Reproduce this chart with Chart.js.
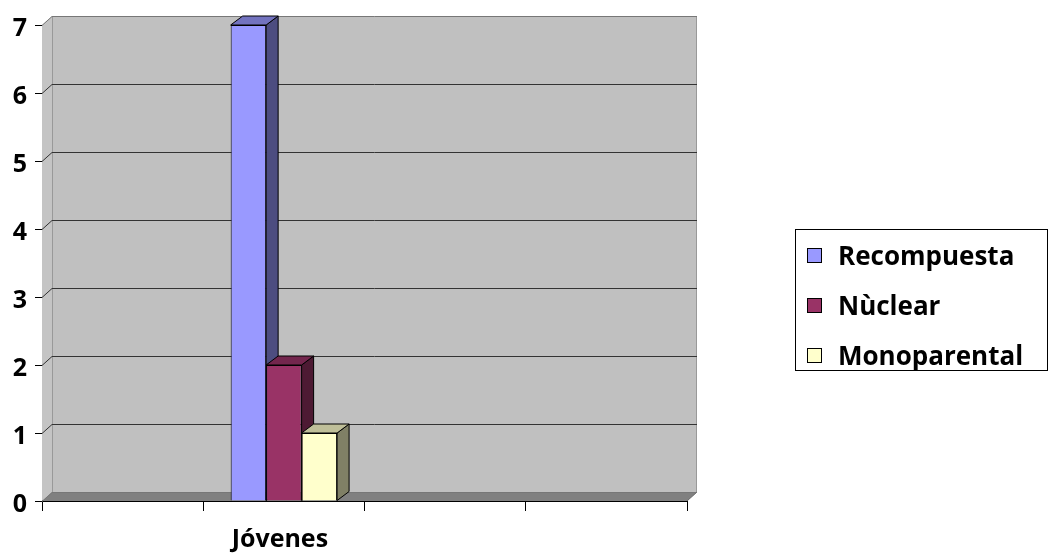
<!DOCTYPE html>
<html>
<head>
<meta charset="utf-8">
<script src="https://cdn.jsdelivr.net/npm/chart.js"></script>
<style>
  html, body { margin: 0; padding: 0; background: #fff; }
  #wrap { width: 1049px; height: 555px; }
</style>
</head>
<body>
<div id="wrap"><canvas id="chart-area" width="1049" height="555"></canvas></div>
<script>
// data
var categories = ['', 'Jóvenes', '', ''];
var seriesNames = ['Recompuesta', 'Nùclear', 'Monoparental'];
var recompuesta = [null, 7, null, null];
var nuclear = [null, 2, null, null];
var monoparental = [null, 1, null, null];
var yMin = 0, yMax = 7, yStep = 1;

var fronts = ['#9999FF', '#993366', '#FFFFCC'];
var sides = ['#4D4D80', '#4D1A33', '#808066'];
var tops = ['#7373BF', '#73264D', '#BFBF99'];

var FONT = '"Open Sans"';
var DX = 10, DY = -9;   // depth of the walls
var BX = 12, BY = -9;   // depth of the bars

function poly(ctx, pts, fill, stroke) {
    ctx.beginPath();
    ctx.moveTo(pts[0][0], pts[0][1]);
    for (var i = 1; i < pts.length; i++) ctx.lineTo(pts[i][0], pts[i][1]);
    ctx.closePath();
    if (fill) { ctx.fillStyle = fill; ctx.fill(); }
    if (stroke) { ctx.strokeStyle = stroke; ctx.lineWidth = 1; ctx.stroke(); }
}

var walls = {
    id: 'walls',
    beforeDatasetsDraw: function(chart) {
        var ctx = chart.ctx, a = chart.chartArea, ys = chart.scales.y;
        ctx.save();
        // back wall
        poly(ctx, [[a.left + DX, a.top + DY], [a.right + DX, a.top + DY],
                   [a.right + DX, a.bottom + DY], [a.left + DX, a.bottom + DY]], '#C0C0C0', null);
        // side wall
        poly(ctx, [[a.left, a.top], [a.left + DX, a.top + DY],
                   [a.left + DX, a.bottom + DY], [a.left, a.bottom]], '#C4C4C4', null);
        // floor
        poly(ctx, [[a.left, a.bottom], [a.left + DX, a.bottom + DY],
                   [a.right + DX, a.bottom + DY], [a.right, a.bottom]], '#808080', null);

        // wall edges
        ctx.lineWidth = 1;
        ctx.strokeStyle = '#999999';
        ctx.beginPath();
        ctx.moveTo(a.left + DX + 0.5, a.top + DY);
        ctx.lineTo(a.left + DX + 0.5, a.bottom + DY);
        ctx.moveTo(a.right + DX - 0.5, a.top + DY);
        ctx.lineTo(a.right + DX - 0.5, a.bottom + DY);
        ctx.stroke();
        ctx.strokeStyle = '#666666';
        ctx.beginPath();
        ctx.moveTo(a.right + DX, a.bottom + DY);
        ctx.lineTo(a.right, a.bottom);
        ctx.stroke();

        // gridlines on the back wall
        for (var v = yMin; v <= yMax; v += yStep) {
            var py = Math.round(ys.getPixelForValue(v)) + 0.5;
            ctx.strokeStyle = v === yMin || v === yMax ? '#777777' : '#333333';
            ctx.beginPath();
            ctx.moveTo(a.left, py);
            ctx.lineTo(a.left + DX, py + DY);
            ctx.lineTo(a.right + DX, py + DY);
            ctx.stroke();
        }

        // side and top faces of the bars
        chart.data.datasets.forEach(function(ds, i) {
            var meta = chart.getDatasetMeta(i);
            meta.data.forEach(function(el, j) {
                if (ds.data[j] === null) return;
                var l = el.x - el.width / 2, r = el.x + el.width / 2;
                poly(ctx, [[r, el.y], [r + BX, el.y + BY], [r + BX, el.base + BY], [r, el.base]], sides[i], '#000');
                poly(ctx, [[l, el.y], [l + BX, el.y + BY], [r + BX, el.y + BY], [r, el.y]], tops[i], '#000');
            });
        });
        ctx.restore();
    },
    afterDraw: function(chart) {
        // legend box
        var ctx = chart.ctx;
        ctx.save();
        ctx.strokeStyle = '#000';
        ctx.lineWidth = 1;
        ctx.strokeRect(795.5, 229.5, 252, 141);
        ctx.font = 'bold 26px ' + FONT;
        ctx.textBaseline = 'alphabetic';
        ctx.textAlign = 'left';
        var rows = [248, 298, 348];
        seriesNames.forEach(function(name, i) {
            ctx.fillStyle = fronts[i];
            ctx.fillRect(807.5, rows[i] + 0.5, 14, 14);
            ctx.strokeRect(807.5, rows[i] + 0.5, 14, 14);
            ctx.fillStyle = '#000';
            ctx.fillText(name, 838, rows[i] + 17);
        });
        ctx.restore();
    }
};

var config = {
    type: 'bar',
    data: {
        labels: categories,
        datasets: [
            { label: seriesNames[0], data: recompuesta, backgroundColor: fronts[0] },
            { label: seriesNames[1], data: nuclear, backgroundColor: fronts[1] },
            { label: seriesNames[2], data: monoparental, backgroundColor: fronts[2] }
        ]
    },
    options: {
        responsive: false,
        animation: false,
        layout: { padding: { top: 25, right: 362, left: 0, bottom: 0 } },
        datasets: {
            bar: {
                borderColor: '#000',
                borderWidth: 1,
                categoryPercentage: 0.66,
                barPercentage: 1.0
            }
        },
        plugins: {
            legend: { display: false },
            tooltip: { enabled: false }
        },
        scales: {
            x: {
                offset: true,
                grid: { offset: true, drawOnChartArea: false, tickLength: 10, color: '#000' },
                border: { color: '#000', width: 1 },
                ticks: {
                    color: '#000', padding: 14, labelOffset: -4, maxRotation: 0, autoSkip: false,
                    font: { family: FONT, size: 25, weight: 'bold' }
                },
                afterFit: function(s) { s.height = 54; }
            },
            y: {
                min: yMin,
                max: yMax,
                grid: { drawOnChartArea: false, tickLength: 7, color: '#000' },
                border: { color: '#000', width: 1 },
                ticks: {
                    stepSize: yStep, color: '#000', padding: 8, labelOffset: 4,
                    font: { family: FONT, size: 25, weight: 'bold' }
                },
                afterFit: function(s) { s.width = 42; }
            }
        }
    },
    plugins: [walls]
};

window.onload = function() {
    var ctx = document.getElementById('chart-area').getContext('2d');
    window.myBar = new Chart(ctx, config);
};
</script>
</body>
</html>
